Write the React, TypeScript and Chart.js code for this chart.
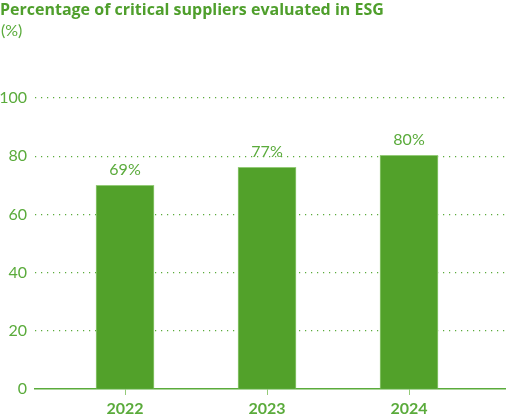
import React, { useEffect, useRef } from 'react';
import Chart from 'chart.js/auto';

const years = ['2022', '2023', '2024'];
const barValues = [70, 76.2, 80.3];
const valueLabels = ['69%', '77%', '80%'];
const yTicks = [0, 20, 40, 60, 80, 100];

const GREEN_TEXT = '#5aab3b';
const GREEN_BAR = '#52a12a';
const GREEN_EDGE = '#94cb78';
const FONT = 'Lato, "Open Sans", sans-serif';

const valueLabelPlugin = {
  id: 'valueLabels',
  afterDatasetsDraw(chart: Chart) {
    const ctx = chart.ctx;
    const meta = chart.getDatasetMeta(0);
    ctx.save();
    ctx.fillStyle = GREEN_TEXT;
    ctx.font = `16px ${FONT}`;
    ctx.textAlign = 'center';
    ctx.textBaseline = 'alphabetic';
    meta.data.forEach((bar: any, i: number) => {
      ctx.fillText(valueLabels[i], bar.x, bar.y - 10);
    });
    ctx.restore();
  },
};

export default function App() {
  const canvasRef = useRef<HTMLCanvasElement>(null);
  const chartInstance = useRef<Chart | null>(null);

  useEffect(() => {
    if (!canvasRef.current) return;
    const ctx = canvasRef.current.getContext('2d');
    if (!ctx) return;

    chartInstance.current = new Chart(ctx, {
      type: 'bar',
      data: {
        datasets: [
          {
            data: years.map((_, i) => ({ x: i, y: barValues[i] })),
            backgroundColor: GREEN_BAR,
            borderColor: GREEN_EDGE,
            borderWidth: 1,
            barThickness: 58,
          },
        ],
      },
      plugins: [valueLabelPlugin],
      options: {
        animation: false,
        responsive: true,
        maintainAspectRatio: false,
        layout: { padding: { top: 98, right: 21, left: 0, bottom: 0 } },
        plugins: {
          legend: { display: false },
          tooltip: { enabled: false },
        },
        scales: {
          x: {
            type: 'linear',
            offset: false,
            min: -0.634,
            max: 2.676,
            afterBuildTicks: (scale: any) => {
              scale.ticks = years.map((_, i) => ({ value: i }));
            },
            afterFit: (scale: any) => {
              scale.height = 30;
            },
            ticks: {
              color: GREEN_TEXT,
              font: { family: FONT, size: 16, weight: 'bold' },
              padding: 4,
              callback: (v: any) => years[v] ?? '',
            },
            grid: {
              offset: false,
              drawOnChartArea: false,
              drawTicks: true,
              tickLength: 6,
              color: GREEN_EDGE,
            },
            border: { display: true, color: '#5aab3b', width: 1.5 },
          },
          y: {
            min: 0,
            max: 100,
            afterBuildTicks: (scale: any) => {
              scale.ticks = yTicks.map((v) => ({ value: v }));
            },
            afterFit: (scale: any) => {
              scale.width = 35;
            },
            ticks: {
              color: GREEN_TEXT,
              font: { family: FONT, size: 16 },
              padding: 8,
            },
            grid: {
              drawTicks: false,
              lineWidth: 1.2,
              color: (c: any) => (c.tick && c.tick.value === 0 ? 'rgba(0,0,0,0)' : '#5aab3b'),
            },
            border: { display: false, dash: [1.2, 4.8] },
          },
        },
      },
    });

    return () => {
      chartInstance.current?.destroy();
    };
  }, []);

  return (
    <div
      style={{
        position: 'absolute',
        left: 0,
        top: 0,
        width: '526px',
        height: '419px',
        fontFamily: FONT,
        color: GREEN_TEXT,
      }}
    >
      <div
        style={{
          position: 'absolute',
          left: 0,
          top: -2,
          fontFamily: '"Open Sans", sans-serif',
          fontSize: '16px',
          fontWeight: 700,
          color: '#4f9f2c',
          lineHeight: '22px',
          whiteSpace: 'nowrap',
        }}
      >
        Percentage of critical suppliers evaluated in ESG
      </div>
      <div style={{ position: 'absolute', left: 1, top: 20, fontSize: '16px', lineHeight: '19px' }}>(%)</div>
      <canvas ref={canvasRef} />
    </div>
  );
}
